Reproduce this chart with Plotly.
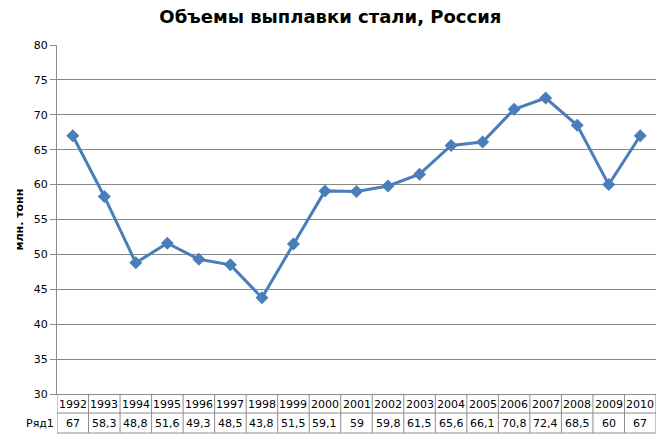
import plotly.graph_objects as go

years = [1992, 1993, 1994, 1995, 1996, 1997, 1998, 1999, 2000, 2001,
         2002, 2003, 2004, 2005, 2006, 2007, 2008, 2009, 2010]
values = [67, 58.3, 48.8, 51.6, 49.3, 48.5, 43.8, 51.5, 59.1, 59,
          59.8, 61.5, 65.6, 66.1, 70.8, 72.4, 68.5, 60, 67]
series_name = "Ряд1"
title = "Объемы выплавки стали, Россия"
y_title = "млн. тонн"

FONT = "DejaVu Sans"
GRID = "#888888"
BORDER = "#8c8c8c"

fig = go.Figure()
fig.add_trace(go.Scatter(
    x=years, y=values, mode="lines+markers",
    line=dict(color="#4A7EBB", width=3),
    marker=dict(symbol="diamond", size=10, color="#4A7EBB"),
    showlegend=False, hoverinfo="skip",
))

shapes = []
annotations = []
x_left = years[0] - 0.5
x_right = years[-1] + 0.5
for k in range(len(years) + 1):
    xb = years[0] - 0.5 + k
    shapes.append(dict(type="line", xref="x", yref="paper", ysizemode="pixel",
                       yanchor=0, x0=xb, x1=xb, y0=0, y1=-39,
                       line=dict(color=BORDER, width=1)))
for dy in (-19, -39):
    shapes.append(dict(type="line", xref="x", yref="paper", ysizemode="pixel",
                       yanchor=0, x0=x_left, x1=x_right, y0=dy, y1=dy,
                       line=dict(color=BORDER, width=1)))
shapes.append(dict(type="line", xref="x", yref="paper", xsizemode="pixel",
                   ysizemode="pixel", xanchor=x_left, yanchor=0,
                   x0=-35, x1=0, y0=-19, y1=-19, line=dict(color=BORDER, width=1)))
shapes.append(dict(type="line", xref="x", yref="paper", xsizemode="pixel",
                   ysizemode="pixel", xanchor=x_left, yanchor=0,
                   x0=-35, x1=-35, y0=-19, y1=-39, line=dict(color=BORDER, width=1)))

for yr, v in zip(years, values):
    annotations.append(dict(x=yr, y=0, xref="x", yref="paper", text=str(yr),
                            showarrow=False, yanchor="middle", yshift=-10,
                            font=dict(family=FONT, size=11, color="#000000")))
    txt = (f"{v:g}").replace(".", ",")
    annotations.append(dict(x=yr, y=0, xref="x", yref="paper", text=txt,
                            showarrow=False, yanchor="middle", yshift=-29,
                            font=dict(family=FONT, size=11, color="#000000")))
annotations.append(dict(x=x_left, y=0, xref="x", yref="paper", text=series_name,
                        showarrow=False, yanchor="middle", yshift=-29, xshift=-17.5,
                        font=dict(family=FONT, size=11, color="#000000")))
annotations.append(dict(x=0, y=0.5, xref="paper", yref="paper", text=f"<b>{y_title}</b>",
                        showarrow=False, textangle=-90, xanchor="center", yanchor="middle",
                        xshift=-38, font=dict(family=FONT, size=11, color="#000000")))

fig.update_layout(
    width=666, height=439,
    margin=dict(l=57, r=10, t=45, b=45),
    paper_bgcolor="white", plot_bgcolor="white",
    title=dict(text=f"<b>{title}</b>", x=0.496, xref="container", xanchor="center",
               y=1 - 17 / 439, yanchor="middle",
               font=dict(family=FONT, size=18, color="#000000")),
    xaxis=dict(range=[x_left, x_right], showticklabels=False, showgrid=False,
               zeroline=False, showline=True, linecolor=BORDER, linewidth=1,
               ticks=""),
    yaxis=dict(range=[30, 80], dtick=5, tick0=30, showgrid=True, gridcolor=GRID,
               gridwidth=1, zeroline=False, showline=True, linecolor=BORDER,
               linewidth=1, ticks="outside", ticklen=6, tickcolor=BORDER,
               tickfont=dict(family=FONT, size=11, color="#000000")),
    shapes=shapes, annotations=annotations,
)

fig.write_html("out.html")
